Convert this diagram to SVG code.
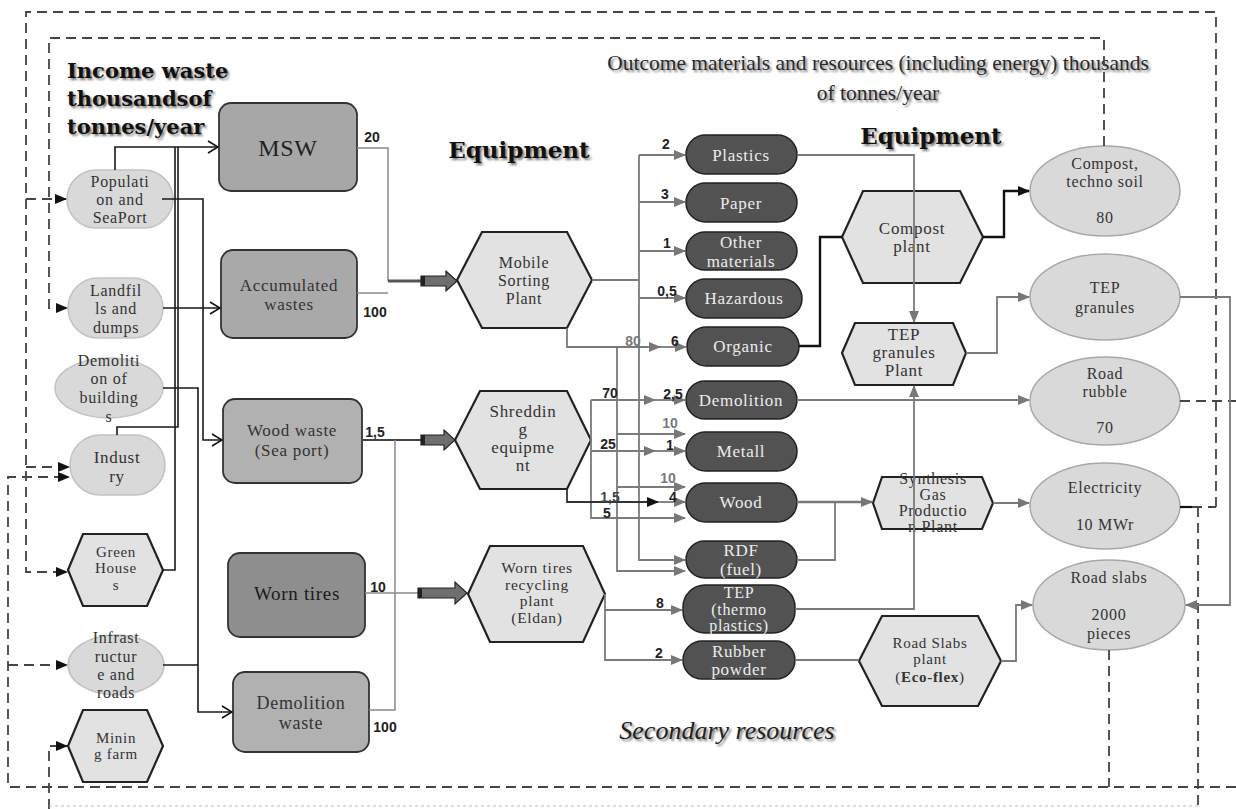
<svg xmlns="http://www.w3.org/2000/svg" width="1236" height="809" viewBox="0 0 1236 809">
<style>
.src{fill:#d9d9d9;stroke:#c2c2c2;stroke-width:1.5}
.box{stroke:#333;stroke-width:1.8}
.hex{fill:#e2e2e2;stroke:#222;stroke-width:2.2}
.prod{fill:#525252;stroke:#222;stroke-width:1.5}
.out{fill:#d9d9d9;stroke:#a8a8a8;stroke-width:1.5}
.t{font-family:"Liberation Serif","Times New Roman",serif;font-size:16px;letter-spacing:0.7px;fill:#333;text-anchor:middle;dominant-baseline:central}
.tw{fill:#ececec;font-size:17px}
.lbl{font-family:"Liberation Sans",Arial,sans-serif;font-weight:bold;font-size:14px;fill:#222;text-anchor:middle;dominant-baseline:central}
.lg{fill:#7a7a7a}
.ln{fill:none;stroke:#1a1a1a;stroke-width:1.6}
.gl{fill:none;stroke:#7a7a7a;stroke-width:1.8}
.gt{fill:none;stroke:#8a8a8a;stroke-width:1.5}
.dl{fill:none;stroke:#444;stroke-width:1.8;stroke-dasharray:10 6}
.ttl{font-family:"DejaVu Serif",serif;font-weight:bold;fill:#111}
.sh{fill:#777;filter:url(#blur)}
.blk{fill:#6e6e6e;stroke:#222;stroke-width:1.2}
</style>
<defs>
<filter id="blur" x="-5%" y="-30%" width="110%" height="160%"><feGaussianBlur stdDeviation="1.2"/></filter>
<marker id="ag" markerWidth="12" markerHeight="10" refX="11" refY="5" orient="auto" markerUnits="userSpaceOnUse"><path d="M0,0 L12,5 L0,10 Z" fill="#777"/></marker>
<marker id="ah" markerWidth="12" markerHeight="10" refX="11" refY="5" orient="auto" markerUnits="userSpaceOnUse"><path d="M0,0 L12,5 L0,10 Z" fill="#111"/></marker>
<marker id="ao" markerWidth="12" markerHeight="14" refX="11" refY="7" orient="auto" markerUnits="userSpaceOnUse"><path d="M1,1 L11,7 L1,13" fill="none" stroke="#111" stroke-width="1.6"/></marker>
</defs>
<rect width="1236" height="809" fill="#fff"/>

<!-- titles -->
<g id="title-income">
<text class="ttl sh" font-size="21" x="69" y="80">Income waste</text>
<text class="ttl" font-size="21" x="67" y="78">Income waste</text>
<text class="ttl sh" font-size="21" x="69" y="108">thousandsof</text>
<text class="ttl" font-size="21" x="67" y="106">thousandsof</text>
<text class="ttl sh" font-size="21" x="69" y="136">tonnes/year</text>
<text class="ttl" font-size="21" x="67" y="134">tonnes/year</text>
</g>
<g id="title-equipment-1">
<text class="ttl sh" font-size="23" x="521" y="160" text-anchor="middle">Equipment</text>
<text class="ttl" font-size="23" x="519" y="158" text-anchor="middle">Equipment</text>
</g>
<g id="title-equipment-2">
<text class="ttl sh" font-size="23" x="933" y="146" text-anchor="middle">Equipment</text>
<text class="ttl" font-size="23" x="931" y="144" text-anchor="middle">Equipment</text>
</g>
<g id="title-outcome" font-family="'Liberation Serif',serif" font-size="21.5" text-anchor="middle">
<text x="880" y="72" class="sh">Outcome materials and resources (including energy) thousands</text>
<text x="878" y="70" fill="#2a2a2a">Outcome materials and resources (including energy) thousands</text>
<text x="880" y="102" class="sh">of tonnes/year</text>
<text x="878" y="100" fill="#2a2a2a">of tonnes/year</text>
</g>
<g id="title-secondary" font-family="'Liberation Serif',serif" font-size="26" font-style="italic" text-anchor="middle">
<text x="729" y="741" class="sh">Secondary resources</text>
<text x="727" y="739" fill="#222">Secondary resources</text>
</g>

<!-- source nodes -->
<g id="n-population"><rect class="src" x="67" y="170" width="106" height="58" rx="29"/>
<text class="t" x="120" y="181">Populati</text><text class="t" x="120" y="199">on and</text><text class="t" x="120" y="217">SeaPort</text></g>
<g id="n-landfills"><rect class="src" x="68" y="278" width="95" height="60" rx="30"/>
<text class="t" x="116" y="290">Landfil</text><text class="t" x="116" y="308">ls and</text><text class="t" x="116" y="327">dumps</text></g>
<g id="n-demolition-buildings"><ellipse class="src" cx="109" cy="388" rx="54" ry="30"/>
<text class="t" x="109" y="360">Demoliti</text><text class="t" x="109" y="378">on of</text><text class="t" x="109" y="397">building</text><text class="t" x="109" y="416">s</text></g>
<g id="n-industry"><rect class="src" x="70" y="435" width="95" height="60" rx="30"/>
<text class="t" x="117" y="457" style="font-size:17px">Indust</text><text class="t" x="117" y="476" style="font-size:17px">ry</text></g>
<g id="n-greenhouses"><polygon class="hex" points="68,570 83,534 147,534 163,570 147,606 83,606"/>
<text class="t" x="116" y="552" style="font-size:15px">Green</text><text class="t" x="116" y="568" style="font-size:15px">House</text><text class="t" x="116" y="585" style="font-size:15px">s</text></g>
<g id="n-infrastructure"><ellipse class="src" cx="116" cy="665" rx="48" ry="30"/>
<text class="t" x="116" y="637">Infrast</text><text class="t" x="116" y="656">ructur</text><text class="t" x="116" y="674">e and</text><text class="t" x="116" y="692">roads</text></g>
<g id="n-mining"><polygon class="hex" points="68,746 83,710 147,710 163,746 147,782 83,782"/>
<text class="t" x="116" y="738" style="font-size:15px">Minin</text><text class="t" x="116" y="754" style="font-size:15px">g farm</text></g>

<!-- waste categories -->
<g id="n-msw"><rect class="box" x="219" y="103" width="138" height="88" rx="12" fill="#a7a7a7"/>
<text class="t" x="288" y="148" style="font-size:24px;fill:#222">MSW</text></g>
<g id="n-accumulated"><rect class="box" x="221" y="250" width="136" height="88" rx="12" fill="#a9a9a9"/>
<text class="t" x="289" y="285" style="font-size:17px">Accumulated</text><text class="t" x="289" y="304" style="font-size:17px">wastes</text></g>
<g id="n-woodwaste"><rect class="box" x="223" y="399" width="139" height="84" rx="12" fill="#b1b1b1"/>
<text class="t" x="292" y="430" style="font-size:17px">Wood waste</text><text class="t" x="292" y="450" style="font-size:17px">(Sea port)</text></g>
<g id="n-worntires"><rect class="box" x="228" y="553" width="137" height="84" rx="12" fill="#8e8e8e"/>
<text class="t" x="297" y="593" style="font-size:19px;fill:#1a1a1a">Worn tires</text></g>
<g id="n-demolitionwaste"><rect class="box" x="233" y="672" width="136" height="80" rx="12" fill="#b1b1b1"/>
<text class="t" x="301" y="703" style="font-size:18px">Demolition</text><text class="t" x="301" y="723" style="font-size:18px">waste</text></g>

<!-- equipment -->
<g id="n-sorting"><polygon class="hex" points="457,280 482,232 567,232 592,280 567,328 482,328"/>
<text class="t" x="524" y="262">Mobile</text><text class="t" x="524" y="280">Sorting</text><text class="t" x="524" y="298">Plant</text></g>
<g id="n-shredding"><polygon class="hex" points="455,440 480,391 567,391 591,440 567,489 480,489"/>
<text class="t" x="523" y="411" style="font-size:17px">Shreddin</text><text class="t" x="523" y="429" style="font-size:17px">g</text><text class="t" x="523" y="447" style="font-size:17px">equipme</text><text class="t" x="523" y="465" style="font-size:17px">nt</text></g>
<g id="n-tirerecycling"><polygon class="hex" points="468,594 490,546 583,546 605,594 583,642 490,642"/>
<text class="t" x="537" y="567" style="font-size:15.5px">Worn tires</text><text class="t" x="537" y="584" style="font-size:15.5px">recycling</text><text class="t" x="537" y="600" style="font-size:15.5px">plant</text><text class="t" x="537" y="617" style="font-size:15.5px">(Eldan)</text></g>

<!-- products -->
<g id="n-plastics"><rect class="prod" x="686" y="135" width="111" height="39" rx="19.5"/><text class="t tw" x="741" y="155">Plastics</text></g>
<g id="n-paper"><rect class="prod" x="686" y="183" width="111" height="39" rx="19.5"/><text class="t tw" x="741" y="203">Paper</text></g>
<g id="n-other"><rect class="prod" x="686" y="232" width="111" height="38" rx="19"/><text class="t tw" x="741" y="242">Other</text><text class="t tw" x="741" y="261">materials</text></g>
<g id="n-hazardous"><rect class="prod" x="686" y="279" width="116" height="39" rx="19.5"/><text class="t tw" x="744" y="298">Hazardous</text></g>
<g id="n-organic"><rect class="prod" x="687" y="327" width="112" height="39" rx="19.5"/><text class="t tw" x="743" y="346">Organic</text></g>
<g id="n-demolition"><rect class="prod" x="686" y="381" width="111" height="38" rx="19"/><text class="t tw" x="741" y="400">Demolition</text></g>
<g id="n-metall"><rect class="prod" x="686" y="432" width="111" height="39" rx="19.5"/><text class="t tw" x="741" y="451">Metall</text></g>
<g id="n-wood"><rect class="prod" x="686" y="483" width="111" height="39" rx="19.5"/><text class="t tw" x="741" y="502">Wood</text></g>
<g id="n-rdf"><rect class="prod" x="686" y="541" width="111" height="37" rx="18.5"/><text class="t tw" x="741" y="550">RDF</text><text class="t tw" x="741" y="569">(fuel)</text></g>
<g id="n-tep"><rect class="prod" x="683" y="585" width="112" height="48" rx="22"/><text class="t tw" x="739" y="592" style="font-size:16px">TEP</text><text class="t tw" x="739" y="609" style="font-size:16px">(thermo</text><text class="t tw" x="739" y="625" style="font-size:16px">plastics)</text></g>
<g id="n-rubber"><rect class="prod" x="683" y="641" width="112" height="38" rx="19"/><text class="t tw" x="739" y="651">Rubber</text><text class="t tw" x="739" y="669">powder</text></g>

<!-- right equipment -->
<g id="n-compostplant"><polygon class="hex" points="842,237 863,191 960,191 983,237 960,283 863,283"/>
<text class="t" x="912" y="228" style="font-size:17px">Compost</text><text class="t" x="912" y="246" style="font-size:17px">plant</text></g>
<g id="n-tepplant"><polygon class="hex" points="842,353 855,323 953,323 966,353 953,385 855,385"/>
<text class="t" x="904" y="334" style="font-size:17px">TEP</text><text class="t" x="904" y="352" style="font-size:17px">granules</text><text class="t" x="904" y="370" style="font-size:17px">Plant</text></g>
<g id="n-synthesis"><polygon class="hex" points="873,503 882,477 982,477 993,503 982,529 882,529"/>
<text class="t" x="933" y="478">Synthesis</text><text class="t" x="933" y="494">Gas</text><text class="t" x="933" y="510">Productio</text><text class="t" x="933" y="526">n Plant</text></g>
<g id="n-slabsplant"><polygon class="hex" points="859,661 882,616 978,616 1001,661 978,706 882,706"/>
<text class="t" x="930" y="643" style="font-size:15px">Road Slabs</text><text class="t" x="930" y="659" style="font-size:15px">plant</text><text class="t" x="930" y="677" style="font-size:15px">(<tspan font-weight="bold">Eco-flex</tspan>)</text></g>

<!-- outputs -->
<g id="n-compost"><ellipse class="out" cx="1105" cy="191" rx="75" ry="45"/>
<text class="t" x="1105" y="163">Compost,</text><text class="t" x="1105" y="181">techno soil</text><text class="t" x="1105" y="217">80</text></g>
<g id="n-tepgranules"><ellipse class="out" cx="1105" cy="297" rx="75" ry="43"/>
<text class="t" x="1105" y="287">TEP</text><text class="t" x="1105" y="307">granules</text></g>
<g id="n-rubble"><ellipse class="out" cx="1105" cy="401" rx="75" ry="44"/>
<text class="t" x="1105" y="373">Road</text><text class="t" x="1105" y="391">rubble</text><text class="t" x="1105" y="427">70</text></g>
<g id="n-electricity"><ellipse class="out" cx="1105" cy="506" rx="75" ry="43"/>
<text class="t" x="1105" y="487">Electricity</text><text class="t" x="1105" y="524">10 MWr</text></g>
<g id="n-roadslabs"><ellipse class="out" cx="1109" cy="605" rx="76" ry="45"/>
<text class="t" x="1109" y="577">Road slabs</text><text class="t" x="1109" y="614">2000</text><text class="t" x="1109" y="633">pieces</text></g>

<!-- connectors -->
<g id="connectors">
<path class="dl" d="M1216,507 V12 H26 V572 H67" marker-end="url(#ah)"/>
<path class="dl" d="M26,199 H66" marker-end="url(#ah)"/>
<path class="dl" d="M26,467 H69" marker-end="url(#ah)"/>
<path class="dl" d="M1104,146 V38 H49 V308 H67" marker-end="url(#ah)"/>
<path class="dl" d="M1192,507 H1216"/>
<path d="M1180,507 H1192" stroke="#111" stroke-width="2.2"/>
<path class="dl" d="M1198,507 V809"/>
<path class="dl" d="M1180,401 H1236"/>
<path class="dl" d="M1109,650 V787"/>
<path class="dl" d="M1236,787 H8 V477 H69" marker-end="url(#ah)"/>
<path class="dl" d="M8,665 H67" marker-end="url(#ah)"/>
<path class="dl" d="M49,809 V746 H67" marker-end="url(#ah)"/>
<path d="M49,806 H1198" fill="none" stroke="#bbb" stroke-width="1" stroke-dasharray="3 3"/>

<path class="ln" d="M115,170 V147 H218" marker-end="url(#ao)"/>
<path class="ln" d="M117,435 V427 H178 V147"/>
<path class="ln" d="M163,570 H175 V147"/>
<path class="ln" d="M162,199 H203 V440 H222" marker-end="url(#ao)"/>
<path class="ln" d="M163,308 H220" marker-end="url(#ao)"/>
<path class="ln" d="M163,388 H198 V712 H232" marker-end="url(#ao)"/>
<path class="ln" d="M163,665 H198"/>

<path class="gt" d="M357,148 H388 V281"/>
<path class="gt" d="M357,293 H388"/>
<path d="M388,281 H421" stroke="#555" stroke-width="3"/>
<path d="M362,440 H421" stroke="#444" stroke-width="1.8"/>
<path class="gt" d="M369,710 H395 V440"/>
<path class="gt" d="M365,593 H418"/>

<polygon class="blk" points="421,276 446,276 446,271 457,281 446,291 446,286 421,286"/>
<rect x="421" y="276" width="4" height="10" fill="#222"/>
<polygon class="blk" points="421,435 444,435 444,430 455,440 444,450 444,445 421,445"/>
<rect x="421" y="435" width="4" height="10" fill="#222"/>
<polygon class="blk" points="418,588 455,588 455,582 467,593 455,604 455,598 418,598"/>
<rect x="418" y="588" width="4" height="10" fill="#222"/>

<path class="gl" d="M592,280 H639"/>
<path class="gl" d="M639,155 V560 H685" marker-end="url(#ag)"/>
<path class="gl" d="M639,155 H685" marker-end="url(#ag)"/>
<path class="gl" d="M639,202 H685" marker-end="url(#ag)"/>
<path class="gl" d="M639,251 H685" marker-end="url(#ag)"/>
<path class="gl" d="M639,298 H685" marker-end="url(#ag)"/>
<path class="gl" d="M567,328 V347 H660" marker-end="url(#ag)"/>
<path class="gl" d="M660,347 H686" marker-end="url(#ag)"/>
<path class="gl" d="M617,347 V571 H685" marker-end="url(#ag)"/>
<path class="gl" d="M617,434 H685" marker-end="url(#ag)"/>
<path class="gl" d="M617,487 H685" marker-end="url(#ag)"/>

<path class="gl" d="M591,400 V518 H685" marker-end="url(#ag)"/>
<path class="gl" d="M591,400 H655" marker-end="url(#ag)"/>
<path class="gl" d="M655,400 H685" marker-end="url(#ag)"/>
<path class="gl" d="M591,451 H655" marker-end="url(#ag)"/>
<path class="gl" d="M655,451 H685" marker-end="url(#ag)"/>
<path d="M567,489 V502 H658" fill="none" stroke="#333" stroke-width="1.8" marker-end="url(#ah)"/>
<path class="gl" d="M658,502 H685" marker-end="url(#ag)"/>

<path class="gl" d="M605,594 V660 H682" marker-end="url(#ag)"/>
<path class="gl" d="M605,610 H682" marker-end="url(#ag)"/>

<path class="gl" d="M797,155 H914 V322" marker-end="url(#ag)"/>
<path d="M799,346 H820 V237 H842" fill="none" stroke="#111" stroke-width="2.4"/>
<path d="M983,237 H1004 V191 H1029" fill="none" stroke="#111" stroke-width="2.4" marker-end="url(#ah)"/>
<path class="gl" d="M966,353 H997 V297 H1029" marker-end="url(#ag)"/>
<path class="gl" d="M797,400 H1029" marker-end="url(#ag)"/>
<path d="M797,502 H872" fill="none" stroke="#777" stroke-width="2.6" marker-end="url(#ag)"/>
<path class="gl" d="M797,560 H835 V502"/>
<path class="gl" d="M993,503 H1029" marker-end="url(#ag)"/>
<path class="gl" d="M795,609 H914 V386" marker-end="url(#ag)"/>
<path class="gl" d="M795,660 H859"/>
<path class="gl" d="M1001,661 H1016 V605 H1032" marker-end="url(#ag)"/>
<path class="gl" d="M1180,297 H1230 V605 H1186" marker-end="url(#ag)"/>
</g>

<!-- flow labels -->
<g id="labels">
<text class="lbl" x="372" y="137">20</text>
<text class="lbl" x="375" y="312">100</text>
<text class="lbl" x="375" y="432">1,5</text>
<text class="lbl" x="378" y="587">10</text>
<text class="lbl" x="385" y="727">100</text>
<text class="lbl" x="666" y="144">2</text>
<text class="lbl" x="665" y="194">3</text>
<text class="lbl" x="667" y="243">1</text>
<text class="lbl" x="667" y="291">0,5</text>
<text class="lbl lg" x="633" y="341">80</text>
<text class="lbl" x="675" y="341">6</text>
<text class="lbl" x="610" y="393">70</text>
<text class="lbl" x="673" y="394">2,5</text>
<text class="lbl lg" x="670" y="423">10</text>
<text class="lbl" x="608" y="444">25</text>
<text class="lbl" x="670" y="445">1</text>
<text class="lbl lg" x="668" y="478">10</text>
<text class="lbl" x="610" y="497" style="fill:#444">1,5</text>
<text class="lbl" x="673" y="497">4</text>
<text class="lbl" x="607" y="513">5</text>
<text class="lbl" x="660" y="603">8</text>
<text class="lbl" x="659" y="653">2</text>
</g>
</svg>
